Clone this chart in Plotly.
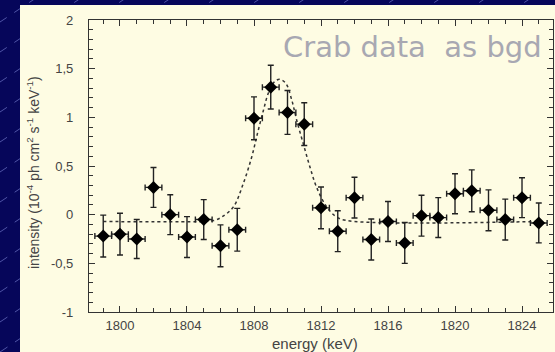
import plotly.graph_objects as go

energy = [1799, 1800, 1801, 1802, 1803, 1804, 1805, 1806, 1807, 1808, 1809, 1810, 1811, 1812,
          1813, 1814, 1815, 1816, 1817, 1818, 1819, 1820, 1821, 1822, 1823, 1824, 1825]
intensity = [-0.22, -0.20, -0.25, 0.28, 0.00, -0.23, -0.05, -0.32, -0.155, 0.99, 1.31, 1.05, 0.93, 0.07,
             -0.17, 0.175, -0.255, -0.07, -0.29, -0.01, -0.03, 0.215, 0.245, 0.045, -0.05, 0.175, -0.085]
err_y = [0.215, 0.215, 0.20, 0.205, 0.205, 0.21, 0.205, 0.215, 0.22, 0.22, 0.225, 0.225, 0.22, 0.215,
         0.21, 0.21, 0.21, 0.205, 0.21, 0.21, 0.205, 0.205, 0.215, 0.21, 0.21, 0.205, 0.205]
err_x = [0.5] * len(energy)

# fitted model curve (dotted)
fit_x = [1799, 1805.0, 1805.6, 1806.07, 1806.77, 1807.36, 1807.86, 1808.2, 1808.56, 1808.86, 1809.25,
         1809.55, 1809.9, 1810.25, 1810.55, 1810.94, 1811.34, 1811.74, 1812.34, 1812.94, 1813.73, 1825]
fit_y = [-0.07, -0.07, -0.06, -0.025, 0.08, 0.32, 0.59, 0.83, 1.07, 1.25, 1.37,
         1.39, 1.35, 1.18, 0.97, 0.73, 0.49, 0.28, 0.08, -0.025, -0.065, -0.07]

y_ticks = [-1, -0.5, 0, 0.5, 1, 1.5, 2]
y_ticktext = ["-1", "-0,5", "0", "0,5", "1", "1,5", "2"]
x_ticks = [1800, 1804, 1808, 1812, 1816, 1820, 1824]

W, H = 555, 352
L, R, T, B = 89, 2, 20, 40

fig = go.Figure()
fig.add_trace(go.Scatter(x=fit_x, y=fit_y, mode="lines",
                         line=dict(color="#333333", width=1.5, dash="dot"),
                         line_shape="spline", hoverinfo="skip"))
fig.add_trace(go.Scatter(x=energy, y=intensity, mode="markers",
                         marker=dict(symbol="diamond", size=10, color="black"),
                         error_y=dict(type="data", array=err_y, color="#222222", thickness=1.4, width=3),
                         error_x=dict(type="data", array=err_x, color="#222222", thickness=1.4, width=3)))

shapes = []
pw = W - L - R
ph = H - T - B
# diagonal slide-background lines
for k in range(-12, 20):
    x0 = k * 45
    shapes.append(dict(type="line", xref="paper", yref="paper",
                       x0=(x0 - L) / pw, y0=(H - B - H) / ph,
                       x1=(x0 + 600 - L) / pw, y1=(H - B - H + 400) / ph,
                       line=dict(color="rgba(140,150,230,0.55)", width=1, dash="dash"), layer="below"))
# cream panel
shapes.append(dict(type="rect", xref="paper", yref="paper",
                   x0=(20 - L) / pw, x1=(W - L) / pw,
                   y0=(H - B - H) / ph, y1=(H - B - 5) / ph,
                   fillcolor="#FEFCE3", line=dict(width=0), layer="below"))

annotations = [
    dict(text="Crab data  as bgd", xref="paper", yref="paper", x=(412 - L) / pw, y=(H - B - 47) / ph,
         showarrow=False, font=dict(family="DejaVu Sans", size=29, color="#A8A8B2"),
         xanchor="center", yanchor="middle"),
    dict(text="intensity (10<sup>-4</sup> ph cm<sup>2</sup> s<sup>-1</sup> keV<sup>-1</sup>)",
         xref="paper", yref="paper", x=(33 - L) / pw, y=(H - B - 173) / ph, textangle=-90,
         showarrow=False, font=dict(family="Liberation Sans", size=14, color="#444444"),
         xanchor="center", yanchor="middle"),
    dict(text="energy (keV)", xref="paper", yref="paper", x=(315 - L) / pw, y=(H - B - 343) / ph,
         showarrow=False, font=dict(family="Liberation Sans", size=15, color="#444444"),
         xanchor="center", yanchor="middle"),
]

axis_common = dict(showline=True, linecolor="#333333", linewidth=1.2, mirror="ticks",
                   ticks="inside", ticklen=6, tickwidth=1.2, tickcolor="#333333",
                   showgrid=False, zeroline=False,
                   tickfont=dict(family="Liberation Sans", size=13, color="#444444"))

fig.update_layout(
    width=W, height=H,
    margin=dict(l=L, r=R, t=T, b=B),
    paper_bgcolor="#06065A", plot_bgcolor="rgba(0,0,0,0)",
    showlegend=False,
    shapes=shapes, annotations=annotations,
    xaxis=dict(range=[1798.15, 1825.85], tickvals=x_ticks, ticklabelstandoff=1,
               minor=dict(dtick=1, tick0=1800, ticks="inside", ticklen=4, tickcolor="#333333", showgrid=False),
               **axis_common),
    yaxis=dict(range=[-1, 2], tickvals=y_ticks, ticktext=y_ticktext, ticklabelstandoff=12,
               minor=dict(dtick=0.1, tick0=0, ticks="inside", ticklen=4, tickcolor="#333333", showgrid=False),
               **axis_common),
)

fig.write_html("out.html")
